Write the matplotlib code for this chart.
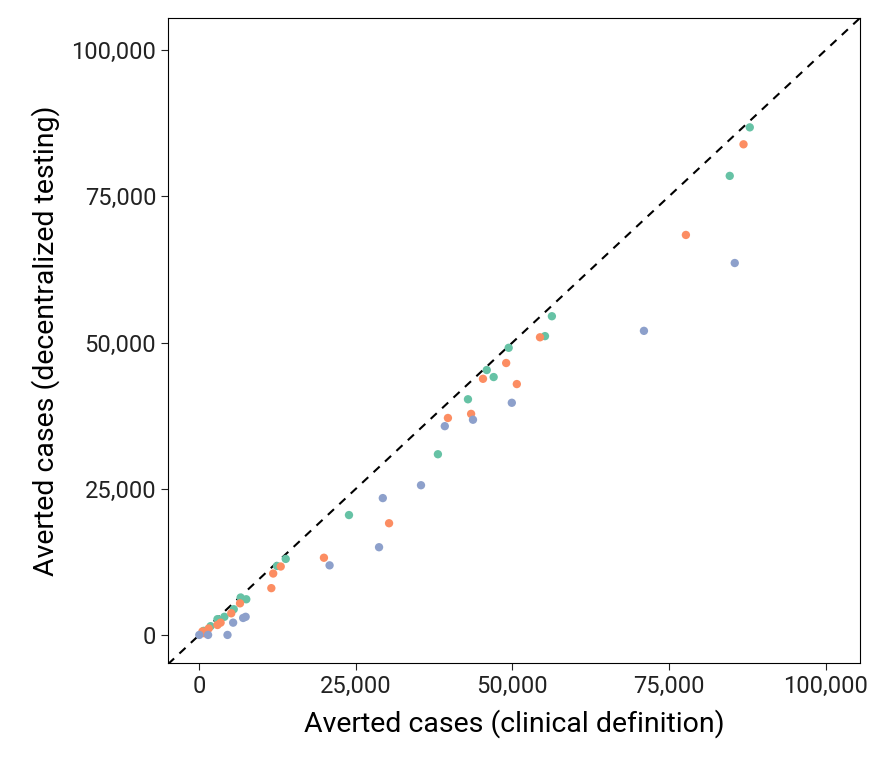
import matplotlib

matplotlib.use("Agg")
import matplotlib.pyplot as plt
from matplotlib.ticker import FuncFormatter

plt.rcParams["font.family"] = "Roboto"

# values in thousands of averted cases
green_x = [87.9, 84.7, 56.3, 55.2, 49.4, 45.9, 47.0, 42.9, 38.1, 23.9, 13.8, 12.4,
           6.6, 7.5, 5.5, 4.0, 2.9, 1.8, 0.7]
green_y = [86.8, 78.5, 54.5, 51.1, 49.1, 45.3, 44.1, 40.3, 30.9, 20.5, 13.0, 11.8,
           6.4, 6.1, 4.4, 3.1, 2.7, 1.5, 0.7]
orange_x = [86.9, 77.7, 54.4, 49.0, 45.3, 50.7, 39.7, 43.4, 30.3, 19.9, 13.0, 11.8,
            11.5, 6.5, 5.1, 3.4, 2.9, 1.5, 0.5, 0.8]
orange_y = [83.9, 68.4, 50.9, 46.5, 43.8, 42.9, 37.1, 37.8, 19.1, 13.2, 11.7, 10.5,
            8.0, 5.4, 3.7, 2.1, 1.7, 1.1, 0.6, 0.3]
blue_x = [85.5, 71.0, 49.9, 43.7, 39.2, 35.4, 29.3, 28.7, 20.8, 7.4, 7.0, 5.4, 0.0, 1.4, 4.5]
blue_y = [63.6, 52.0, 39.7, 36.8, 35.7, 25.6, 23.4, 15.0, 11.9, 3.1, 2.9, 2.1, 0.0, 0.0, 0.0]

ticks = [0, 25000, 50000, 75000, 100000]
lim = (-5000, 105500)

fig = plt.figure(figsize=(8.87, 7.63), dpi=100)
ax = fig.add_axes([168 / 887, 100 / 763, 692 / 887, 645 / 763])
ax.plot(lim, lim, "k--", lw=1.5, dashes=(4, 3.5), zorder=1)
for xs, ys, c in [(green_x, green_y, "#66c2a5"), (orange_x, orange_y, "#fc8d62"),
                  (blue_x, blue_y, "#8da0cb")]:
    ax.scatter([v * 1000 for v in xs], [v * 1000 for v in ys], s=36, color=c,
               edgecolor="none", zorder=2)
ax.set_xlim(lim)
ax.set_ylim(-4800, 105500)
ax.set_xticks(ticks)
ax.set_yticks(ticks)
fmt = FuncFormatter(lambda v, p: f"{int(v):,}")
ax.xaxis.set_major_formatter(fmt)
ax.yaxis.set_major_formatter(fmt)
ax.tick_params(labelsize=17, length=5, colors="#222222")
ax.set_xlabel("Averted cases (clinical definition)", fontsize=20.5, labelpad=8)
ax.set_ylabel("Averted cases (decentralized testing)", fontsize=20.5, labelpad=8)

fig.savefig("out.png", dpi=100)
